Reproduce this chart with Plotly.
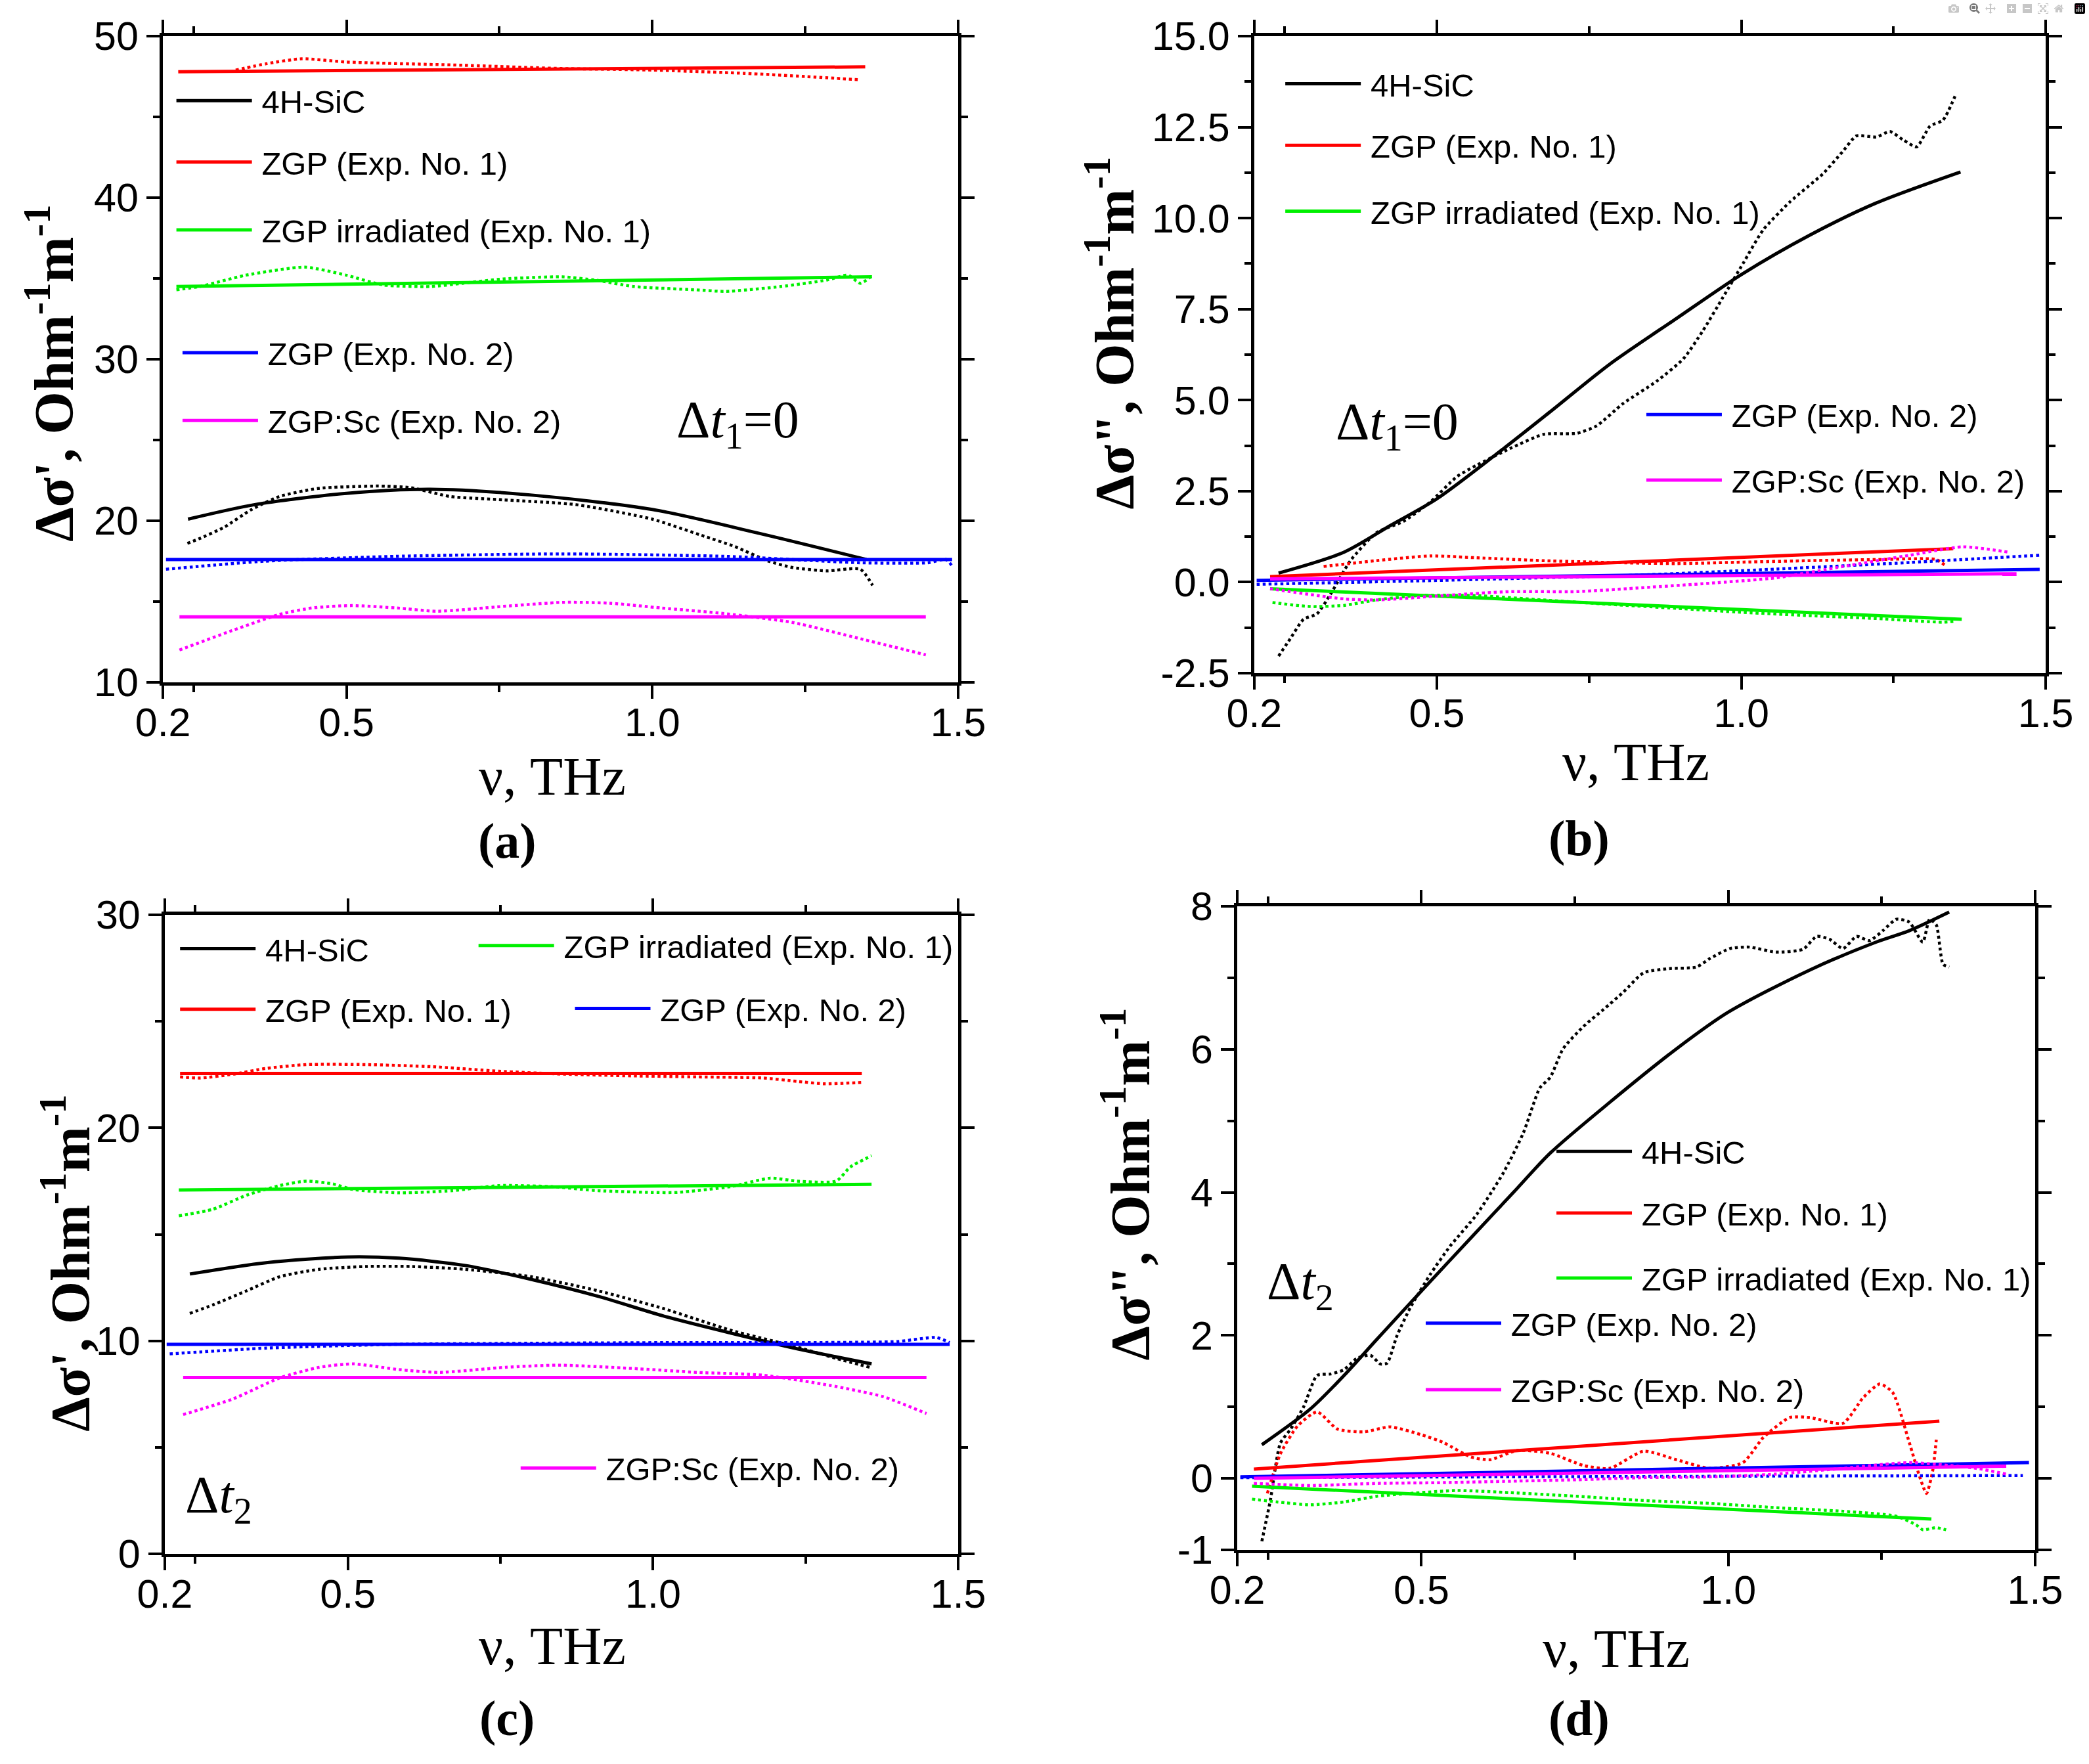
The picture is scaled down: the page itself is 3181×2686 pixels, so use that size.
import plotly.graph_objects as go

W, H = 3181, 2686

# ---------------- data ----------------
# Panel (a): Re, dt1 = 0
A_SIC_FIT_X = [0.241, 0.35, 0.5, 0.637, 0.8, 1.0, 1.177, 1.35]
A_SIC_FIT_Y = [20.1, 21.0, 21.7, 21.95, 21.6, 20.7, 19.2, 17.6]
A_SIC_EXP_X = [0.24, 0.26, 0.30, 0.345, 0.39, 0.453, 0.55, 0.605, 0.67, 0.756, 0.875, 1.0, 1.08, 1.135, 1.19, 1.23, 1.285, 1.34, 1.36]
A_SIC_EXP_Y = [18.6, 18.9, 19.6, 20.7, 21.5, 22.0, 22.15, 22.05, 21.5, 21.3, 21.0, 20.1, 19.1, 18.4, 17.5, 17.1, 16.9, 17.0, 16.0]
A_ZGP1_FIT_X = [0.225, 1.348]
A_ZGP1_FIT_Y = [47.8, 48.1]
A_ZGP1_EXP_X = [0.319, 0.37, 0.427, 0.5, 0.69, 0.85, 1.0, 1.15, 1.25, 1.34]
A_ZGP1_EXP_Y = [47.9, 48.3, 48.6, 48.4, 48.2, 48.0, 47.9, 47.7, 47.5, 47.3]
A_IRR_FIT_X = [0.222, 1.359]
A_IRR_FIT_Y = [34.5, 35.1]
A_IRR_EXP_X = [0.222, 0.26, 0.335, 0.432, 0.5, 0.56, 0.637, 0.69, 0.756, 0.853, 0.907, 0.97, 1.07, 1.12, 1.21, 1.285, 1.32, 1.34, 1.36]
A_IRR_EXP_Y = [34.3, 34.5, 35.2, 35.7, 35.2, 34.6, 34.5, 34.7, 34.97, 35.1, 34.9, 34.5, 34.3, 34.2, 34.5, 34.9, 35.2, 34.7, 35.2]
A_ZGP2_FIT_X = [0.205, 1.49]
A_ZGP2_FIT_Y = [17.6, 17.6]
A_ZGP2_EXP_X = [0.205, 0.367, 0.58, 0.85, 1.12, 1.34, 1.45, 1.48, 1.49]
A_ZGP2_EXP_Y = [17.0, 17.5, 17.8, 17.95, 17.8, 17.4, 17.4, 17.6, 17.2]
A_SC_FIT_X = [0.227, 1.447]
A_SC_FIT_Y = [14.05, 14.05]
A_SC_EXP_X = [0.227, 0.313, 0.39, 0.443, 0.508, 0.583, 0.648, 0.756, 0.853, 0.93, 1.015, 1.12, 1.23, 1.34, 1.447]
A_SC_EXP_Y = [12.0, 13.2, 14.2, 14.6, 14.75, 14.6, 14.4, 14.7, 14.95, 14.9, 14.6, 14.25, 13.7, 12.7, 11.7]

# Panel (b): Im, dt1 = 0
B_SIC_FIT_X = [0.24, 0.347, 0.423, 0.5, 0.598, 0.686, 0.784, 0.894, 1.0, 1.112, 1.222, 1.36]
B_SIC_FIT_Y = [0.25, 0.82, 1.55, 2.29, 3.52, 4.68, 5.99, 7.25, 8.45, 9.53, 10.42, 11.27]
B_SIC_EXP_X = [0.24, 0.259, 0.281, 0.303, 0.325, 0.358, 0.401, 0.445, 0.489, 0.533, 0.565, 0.62, 0.675, 0.73, 0.762, 0.806, 0.861, 0.905, 0.937, 0.97, 1.003, 1.036, 1.08, 1.134, 1.167, 1.189, 1.222, 1.244, 1.266, 1.288, 1.31, 1.331, 1.351]
B_SIC_EXP_Y = [-2.03, -1.56, -1.02, -0.87, -0.34, 0.59, 1.36, 1.67, 2.2, 2.9, 3.21, 3.67, 4.06, 4.09, 4.29, 4.91, 5.52, 6.14, 6.91, 7.83, 8.76, 9.68, 10.45, 11.22, 11.84, 12.26, 12.23, 12.38, 12.15, 11.96, 12.53, 12.69, 13.35]
B_ZGP1_FIT_X = [0.226, 1.348]
B_ZGP1_FIT_Y = [0.15, 0.92]
B_ZGP1_EXP_X = [0.314, 0.40, 0.489, 0.565, 0.675, 0.784, 0.894, 1.003, 1.112, 1.222, 1.32, 1.337]
B_ZGP1_EXP_Y = [0.43, 0.59, 0.72, 0.67, 0.59, 0.54, 0.51, 0.55, 0.59, 0.62, 0.62, 0.43]
B_IRR_FIT_X = [0.226, 1.362]
B_IRR_FIT_Y = [-0.18, -1.02]
B_IRR_EXP_X = [0.23, 0.292, 0.347, 0.40, 0.467, 0.565, 0.675, 0.784, 0.894, 1.003, 1.112, 1.222, 1.331, 1.353]
B_IRR_EXP_Y = [-0.56, -0.67, -0.64, -0.49, -0.37, -0.37, -0.49, -0.61, -0.72, -0.83, -0.92, -1.0, -1.1, -1.07]
B_ZGP2_FIT_X = [0.204, 1.49]
B_ZGP2_FIT_Y = [0.05, 0.35]
B_ZGP2_EXP_X = [0.204, 0.51, 0.84, 1.058, 1.277, 1.49]
B_ZGP2_EXP_Y = [-0.06, 0.05, 0.2, 0.36, 0.54, 0.74]
B_SC_FIT_X = [0.226, 1.452]
B_SC_FIT_Y = [0.09, 0.23]
B_SC_EXP_X = [0.226, 0.292, 0.347, 0.401, 0.51, 0.62, 0.73, 0.84, 0.948, 1.058, 1.167, 1.277, 1.364, 1.44]
B_SC_EXP_Y = [-0.18, -0.34, -0.46, -0.49, -0.37, -0.26, -0.26, -0.15, -0.03, 0.12, 0.43, 0.74, 0.97, 0.82]

# Panel (c): Re, dt2
C_SIC_FIT_X = [0.241, 0.366, 0.5, 0.584, 0.692, 0.801, 0.91, 1.018, 1.127, 1.236, 1.358]
C_SIC_FIT_Y = [13.14, 13.67, 13.94, 13.88, 13.54, 12.88, 12.09, 11.16, 10.37, 9.63, 8.92]
C_SIC_EXP_X = [0.241, 0.279, 0.334, 0.388, 0.453, 0.529, 0.605, 0.692, 0.801, 0.91, 1.018, 1.127, 1.236, 1.3, 1.355]
C_SIC_EXP_Y = [11.29, 11.69, 12.35, 13.01, 13.36, 13.49, 13.49, 13.36, 13.01, 12.35, 11.51, 10.5, 9.71, 9.18, 8.76]
C_ZGP1_FIT_X = [0.225, 1.342]
C_ZGP1_FIT_Y = [22.55, 22.55]
C_ZGP1_EXP_X = [0.225, 0.258, 0.312, 0.366, 0.432, 0.53, 0.638, 0.747, 0.854, 0.964, 1.073, 1.18, 1.236, 1.28, 1.342]
C_ZGP1_EXP_Y = [22.39, 22.34, 22.52, 22.79, 22.97, 22.97, 22.87, 22.66, 22.52, 22.44, 22.39, 22.34, 22.18, 22.07, 22.13]
C_IRR_FIT_X = [0.223, 1.358]
C_IRR_FIT_Y = [17.08, 17.35]
C_IRR_EXP_X = [0.223, 0.279, 0.334, 0.388, 0.432, 0.475, 0.508, 0.584, 0.671, 0.747, 0.834, 0.91, 0.997, 1.04, 1.127, 1.192, 1.236, 1.3, 1.323, 1.358]
C_IRR_EXP_Y = [15.87, 16.18, 16.84, 17.29, 17.5, 17.37, 17.11, 16.95, 17.05, 17.29, 17.24, 17.05, 16.97, 16.97, 17.24, 17.64, 17.5, 17.5, 18.16, 18.69]
C_ZGP2_FIT_X = [0.203, 1.486]
C_ZGP2_FIT_Y = [9.84, 9.84]
C_ZGP2_EXP_X = [0.208, 0.366, 0.584, 0.801, 1.018, 1.236, 1.4, 1.464, 1.486]
C_ZGP2_EXP_Y = [9.39, 9.66, 9.84, 9.89, 9.92, 9.92, 9.97, 10.16, 9.92]
C_SC_FIT_X = [0.23, 1.448]
C_SC_FIT_Y = [8.28, 8.28]
C_SC_EXP_X = [0.23, 0.312, 0.388, 0.453, 0.508, 0.584, 0.649, 0.758, 0.845, 0.964, 1.073, 1.18, 1.29, 1.377, 1.448]
C_SC_EXP_Y = [6.54, 7.28, 8.26, 8.76, 8.92, 8.65, 8.52, 8.76, 8.86, 8.71, 8.52, 8.39, 7.91, 7.38, 6.59]

# Panel (d): Im, dt2
D_SIC_FIT_X = [0.24, 0.319, 0.374, 0.428, 0.5, 0.59, 0.65, 0.71, 0.807, 0.916, 1.0, 1.133, 1.241, 1.295, 1.36]
D_SIC_FIT_Y = [0.47, 0.97, 1.44, 1.95, 2.62, 3.45, 4.0, 4.55, 5.26, 6.01, 6.52, 7.11, 7.5, 7.66, 7.92]
D_SIC_EXP_X = [0.24, 0.254, 0.27, 0.287, 0.308, 0.33, 0.352, 0.374, 0.395, 0.417, 0.433, 0.444, 0.46, 0.482, 0.515, 0.547, 0.59, 0.634, 0.666, 0.693, 0.71, 0.731, 0.764, 0.797, 0.829, 0.862, 0.905, 0.948, 0.97, 1.003, 1.035, 1.078, 1.122, 1.144, 1.165, 1.187, 1.209, 1.23, 1.252, 1.274, 1.295, 1.317, 1.328, 1.339, 1.35, 1.36]
D_SIC_EXP_Y = [-0.88, -0.3, 0.49, 0.69, 1.0, 1.44, 1.46, 1.52, 1.68, 1.72, 1.6, 1.61, 1.99, 2.39, 2.86, 3.25, 3.69, 4.28, 4.83, 5.46, 5.61, 6.01, 6.32, 6.56, 6.8, 7.07, 7.13, 7.15, 7.27, 7.41, 7.43, 7.36, 7.4, 7.58, 7.54, 7.41, 7.58, 7.52, 7.66, 7.82, 7.78, 7.5, 7.82, 7.74, 7.19, 7.15]
D_ZGP1_FIT_X = [0.227, 1.344]
D_ZGP1_FIT_Y = [0.13, 0.80]
D_ZGP1_EXP_X = [0.249, 0.27, 0.298, 0.33, 0.363, 0.406, 0.449, 0.5, 0.536, 0.58, 0.612, 0.656, 0.71, 0.764, 0.807, 0.862, 0.916, 0.97, 1.024, 1.057, 1.1, 1.133, 1.187, 1.22, 1.247, 1.268, 1.295, 1.312, 1.323, 1.333, 1.339]
D_ZGP1_EXP_Y = [-0.21, 0.34, 0.73, 0.93, 0.69, 0.65, 0.72, 0.61, 0.5, 0.3, 0.26, 0.39, 0.35, 0.18, 0.14, 0.38, 0.26, 0.14, 0.22, 0.57, 0.85, 0.85, 0.77, 1.13, 1.32, 1.2, 0.5, 0.02, -0.21, 0.1, 0.54]
D_IRR_FIT_X = [0.224, 1.331]
D_IRR_FIT_Y = [-0.11, -0.57]
D_IRR_EXP_X = [0.224, 0.265, 0.319, 0.374, 0.428, 0.482, 0.558, 0.645, 0.753, 0.862, 0.97, 1.078, 1.187, 1.274, 1.306, 1.317, 1.339, 1.355]
D_IRR_EXP_Y = [-0.29, -0.33, -0.37, -0.33, -0.25, -0.21, -0.17, -0.2, -0.25, -0.31, -0.35, -0.41, -0.46, -0.53, -0.65, -0.72, -0.69, -0.72]
D_ZGP2_FIT_X = [0.205, 1.49]
D_ZGP2_FIT_Y = [0.02, 0.22]
D_ZGP2_EXP_X = [0.205, 0.6, 1.0, 1.48]
D_ZGP2_EXP_Y = [0.01, 0.02, 0.03, 0.04]
D_SC_FIT_X = [0.227, 1.453]
D_SC_FIT_Y = [0.0, 0.17]
D_SC_EXP_X = [0.227, 0.319, 0.428, 0.536, 0.645, 0.753, 0.862, 0.97, 1.078, 1.187, 1.295, 1.404, 1.453]
D_SC_EXP_Y = [-0.07, -0.1, -0.07, -0.06, -0.04, -0.02, 0.01, 0.02, 0.06, 0.14, 0.22, 0.14, 0.06]

# names and colours
NAMES = ["4H-SiC", "ZGP (Exp. No. 1)", "ZGP irradiated (Exp. No. 1)", "ZGP (Exp. No. 2)", "ZGP:Sc (Exp. No. 2)"]
KEYS = ["SIC", "ZGP1", "IRR", "ZGP2", "SC"]
COLORS = {"SIC": "#000000", "ZGP1": "#FF0000", "IRR": "#00F000", "ZGP2": "#0000FF", "SC": "#FF00FF"}

# axis ranges and ticks
X_RANGE = [0.2, 1.5]
X_TICKS = [0.2, 0.5, 1.0, 1.5]
X_TICKTEXT = ["0.2", "0.5", "1.0", "1.5"]
X_MINOR = [0.25, 0.75, 1.25]
Y_RANGES = {"a": [10, 50], "b": [-2.5, 15], "c": [0, 30], "d": [-1, 8]}
Y_TICKS = {"a": [10, 20, 30, 40, 50], "b": [-2.5, 0, 2.5, 5, 7.5, 10, 12.5, 15],
           "c": [0, 10, 20, 30], "d": [-1, 0, 2, 4, 6, 8]}
Y_TICKTEXT = {"a": ["10", "20", "30", "40", "50"],
              "b": ["-2.5", "0.0", "2.5", "5.0", "7.5", "10.0", "12.5", "15.0"],
              "c": ["0", "10", "20", "30"], "d": ["-1", "0", "2", "4", "6", "8"]}
Y_MINOR = {"a": [15, 25, 35, 45], "b": [-1.25, 1.25, 3.75, 6.25, 8.75, 11.25, 13.75],
           "c": [5, 15, 25], "d": [1, 3, 5, 7]}

# legend entry anchor (start of sample line, centre) in data units
LEG_POS = {
    "a": {"SIC": (0.222, 46.0), "ZGP1": (0.222, 42.2), "IRR": (0.222, 38.0), "ZGP2": (0.232, 30.4), "SC": (0.232, 26.2)},
    "b": {"SIC": (0.251, 13.69), "ZGP1": (0.251, 12.0), "IRR": (0.251, 10.19), "ZGP2": (0.844, 4.6), "SC": (0.844, 2.8)},
    "c": {"SIC": (0.225, 28.41), "ZGP1": (0.225, 25.56), "IRR": (0.714, 28.55), "ZGP2": (0.872, 25.6), "SC": (0.783, 4.03)},
    "d": {"SIC": (0.72, 4.57), "ZGP1": (0.72, 3.71), "IRR": (0.72, 2.8), "ZGP2": (0.507, 2.17), "SC": (0.507, 1.24)},
}

# ---------------- layout geometry ----------------
PANELS = ["a", "b", "c", "d"]
DOMAINS = {
    "a": ([0.078, 0.4587], [0.6132, 0.9795]),
    "b": ([0.6004, 0.9793], [0.6184, 0.9795]),
    "c": ([0.0789, 0.4587], [0.1191, 0.4814]),
    "d": ([0.5923, 0.9742], [0.1214, 0.4862]),
}
AX = {"a": ("x", "y"), "b": ("x2", "y2"), "c": ("x3", "y3"), "d": ("x4", "y4")}

DATA = globals()


def to_paper(p, x, y):
    (dx0, dx1), (dy0, dy1) = DOMAINS[p]
    yr = Y_RANGES[p]
    px = dx0 + (x - X_RANGE[0]) / (X_RANGE[1] - X_RANGE[0]) * (dx1 - dx0)
    py = dy0 + (y - yr[0]) / (yr[1] - yr[0]) * (dy1 - dy0)
    return px, py


fig = go.Figure()
legends = {}
li = 0
for p in PANELS:
    xa, ya = AX[p]
    P = p.upper()
    for k, name in zip(KEYS, NAMES):
        col = COLORS[k]
        ex, ey = DATA[f"{P}_{k}_EXP_X"], DATA[f"{P}_{k}_EXP_Y"]
        fx, fy = DATA[f"{P}_{k}_FIT_X"], DATA[f"{P}_{k}_FIT_Y"]
        fig.add_trace(go.Scatter(x=ex, y=ey, mode="lines", xaxis=xa, yaxis=ya,
                                 line=dict(color=col, width=4.5, dash="dot", shape="spline", smoothing=0.6),
                                 showlegend=False, hoverinfo="skip"))
        li += 1
        lname = "legend" if li == 1 else f"legend{li}"
        fig.add_trace(go.Scatter(x=fx, y=fy, mode="lines", xaxis=xa, yaxis=ya, name="\u2009" + name,
                                 line=dict(color=col, width=5, shape="spline", smoothing=0.8),
                                 showlegend=True, legend=lname, hoverinfo="skip"))
        lx, ly = LEG_POS[p][k]
        ppx, ppy = to_paper(p, lx, ly)
        legends[lname] = dict(x=ppx - 5.0 / W, y=ppy, xanchor="left", yanchor="middle",
                              bgcolor="rgba(0,0,0,0)", borderwidth=0, itemwidth=115,
                              font=dict(family="Liberation Sans, Arial", size=49, color="black"),
                              itemclick=False, itemdoubleclick=False)

AXIS_COMMON = dict(showline=True, linewidth=5, linecolor="black", mirror="allticks",
                   ticks="outside", ticklen=20, tickwidth=4, tickcolor="black",
                   showgrid=False, zeroline=False, automargin=False,
                   tickfont=dict(family="Liberation Sans, Arial", size=61, color="black"))

layout_axes = {}
for i, p in enumerate(PANELS):
    n = "" if i == 0 else str(i + 1)
    dx, dy = DOMAINS[p]
    layout_axes[f"xaxis{n}"] = dict(AXIS_COMMON, domain=dx, range=X_RANGE, anchor=f"y{n}",
                                    tickmode="array", tickvals=X_TICKS, ticktext=X_TICKTEXT,
                                    ticklabelstandoff=-16,
                                    minor=dict(tickmode="array", tickvals=X_MINOR, ticks="outside",
                                               ticklen=10, tickwidth=4, tickcolor="black"))
    layout_axes[f"yaxis{n}"] = dict(AXIS_COMMON, domain=dy, range=Y_RANGES[p], anchor=f"x{n}",
                                    tickmode="array", tickvals=Y_TICKS[p], ticktext=Y_TICKTEXT[p],
                                    minor=dict(tickmode="array", tickvals=Y_MINOR[p], ticks="outside",
                                               ticklen=10, tickwidth=4, tickcolor="black"))

SERIF = "Liberation Serif, Times New Roman, serif"
annotations = []
# x-axis titles and panel labels
XT = {"a": (0.2644, 0.5596), "b": (0.7831, 0.5678), "c": (0.2644, 0.067), "d": (0.7737, 0.0655)}
PL = {"a": (0.2427, 0.5231), "b": (0.756, 0.5246), "c": (0.2427, 0.0257), "d": (0.756, 0.0257)}
YT = {"a": (0.0239, 0.7885), "b": (0.5316, 0.811), "c": (0.0318, 0.2841), "d": (0.539, 0.3287)}
YTXT = {"a": "Δσ', Ohm<sup>-1</sup>m<sup>-1</sup>", "b": "Δσ\", Ohm<sup>-1</sup>m<sup>-1</sup>",
        "c": "Δσ', Ohm<sup>-1</sup>m<sup>-1</sup>", "d": "Δσ\", Ohm<sup>-1</sup>m<sup>-1</sup>"}
for p in PANELS:
    annotations.append(dict(text="ν, THz", x=XT[p][0], y=XT[p][1], xref="paper", yref="paper",
                            showarrow=False, xanchor="center", yanchor="middle",
                            font=dict(family=SERIF, size=82, color="black")))
    annotations.append(dict(text=f"<b>({p})</b>", x=PL[p][0], y=PL[p][1], xref="paper", yref="paper",
                            showarrow=False, xanchor="center", yanchor="middle",
                            font=dict(family=SERIF, size=76, color="black")))
    annotations.append(dict(text=f"<b>{YTXT[p]}</b>", x=YT[p][0], y=YT[p][1], xref="paper", yref="paper",
                            showarrow=False, xanchor="center", yanchor="middle", textangle=-90,
                            font=dict(family=SERIF, size=84, color="black")))

# delta-t labels (data coords)
DT = {"a": ("Δ<i>t</i><sub>1</sub>=0", 1.14, 26.0), "b": ("Δ<i>t</i><sub>1</sub>=0", 0.435, 4.3),
      "c": ("Δ<i>t</i><sub>2</sub>", 0.288, 2.6), "d": ("Δ<i>t</i><sub>2</sub>", 0.303, 2.7)}
for p in PANELS:
    t, x, y = DT[p]
    xa, ya = AX[p]
    annotations.append(dict(text=t, x=x, y=y, xref=xa, yref=ya, showarrow=False,
                            xanchor="center", yanchor="middle",
                            font=dict(family=SERIF, size=80, color="black")))

fig.update_layout(width=W, height=H, margin=dict(l=0, r=0, t=0, b=0, autoexpand=False),
                  paper_bgcolor="white", plot_bgcolor="white",
                  annotations=annotations, **layout_axes, **legends)

fig.write_html("out.html", post_script="document.body.style.margin='0';")
